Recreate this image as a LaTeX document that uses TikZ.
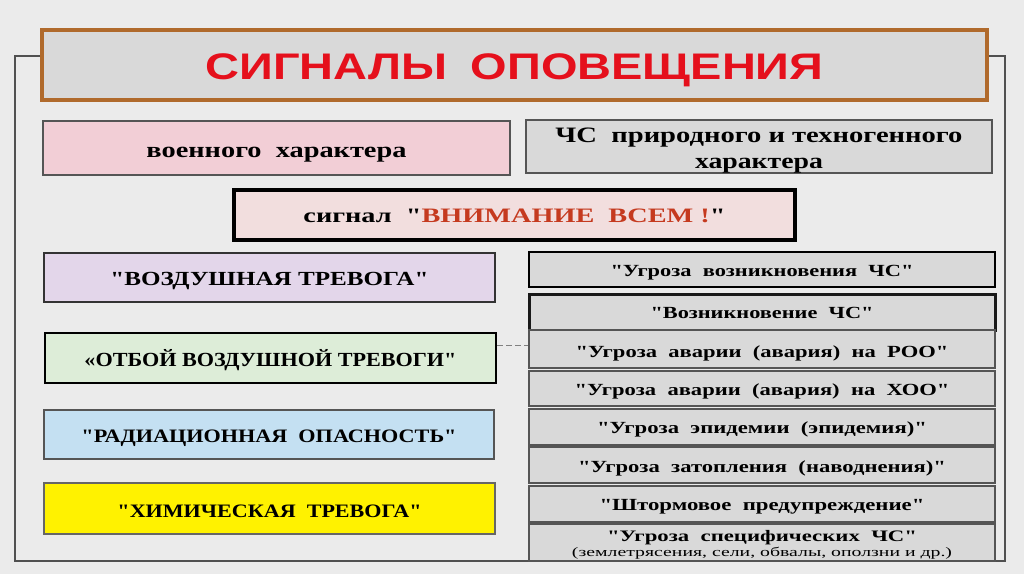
\documentclass[tikz,border=0pt]{standalone}
\usepackage{fontspec}
\setmainfont{Liberation Serif}
\newfontfamily\titlefont{Liberation Sans}
\usepackage{graphicx}
\definecolor{bgc}{HTML}{EBEBEB}
\definecolor{gry}{HTML}{D9D9D9}
\definecolor{brownc}{HTML}{B06A2C}
\definecolor{titlered}{HTML}{E5101C}
\definecolor{sigred}{HTML}{C53A1F}
\definecolor{pinkc}{HTML}{F2CED6}
\definecolor{sigpink}{HTML}{F2DEDE}
\definecolor{lavc}{HTML}{E3D6EA}
\definecolor{greenc}{HTML}{DDEDD8}
\definecolor{bluec}{HTML}{C4E0F2}
\definecolor{framec}{HTML}{505050}
\definecolor{edgec}{HTML}{555555}
\newcommand\tw[3]{\resizebox{#1pt}{\height}{\fontsize{#2pt}{#2pt}\selectfont\bfseries #3}}
\newcommand\dsp{\hspace*{0.5em}}
\newcommand\q{\textquotedbl}
\begin{document}
\begin{tikzpicture}[x=1pt,y=-1pt,
  basebox/.style={rectangle, inner sep=0pt, text depth=0pt, anchor=center},
  thinbox/.style={basebox, draw=edgec, line width=1.2pt},
  leftbox/.style={thinbox, minimum width=451pt},
  rightbox/.style={thinbox, fill=gry, minimum width=466pt},
  txt/.style={inner sep=0pt, anchor=base},
  frame/.style={draw=framec, line width=1.1pt},
  conn/.style={draw=gray, line width=1pt, dash pattern=on 6pt off 3pt}]
\useasboundingbox[fill=bgc] (0,0) rectangle (1024,574);

% title
\node[basebox, draw=brownc, line width=4pt, fill=gry, minimum width=945pt,
  minimum height=70pt, text height=29pt, text=titlered] (title) at (514.5,65)
  {\tw{618}{37}{\titlefont СИГНАЛЫ\dsp ОПОВЕЩЕНИЯ}};

% frame
\draw[frame] ([yshift=9pt]title.west) -- ++(-25,0) |- (1005,561) |- ([yshift=9pt]title.east);

% row 1
\node[thinbox, fill=pinkc, minimum width=467pt, minimum height=54pt, text height=18pt]
  (mil) at (276.5,148) {\tw{260}{22}{военного\dsp характера}};
\node[thinbox, fill=gry, minimum width=466pt, minimum height=53pt] (chs) at (759,146.5) {};
\node[txt] (chs1) at ([yshift=4.5pt]chs.center) {\tw{407}{22}{ЧС\dsp природного и техногенного}};
\node[txt] (chs2) at ([yshift=-21.5pt]chs.center) {\tw{128}{22}{характера}};

% signal
\node[basebox, draw=black, line width=4pt, fill=sigpink, minimum width=561pt,
  minimum height=50pt, text height=14pt] (signal) at (514.5,215)
  {\tw{422}{20.5}{сигнал\dsp \q\textcolor{sigred}{ВНИМАНИЕ\dsp ВСЕМ !}\q}};

% left column
\node[leftbox, fill=lavc, draw=black!80, line width=1.6pt, minimum height=49pt, text height=15pt]
  (air) at (269.5,277.5) {\tw{318}{20}{\q ВОЗДУШНАЯ ТРЕВОГА\q}};
\node[leftbox, fill=greenc, draw=black, line width=2.2pt, minimum height=50pt, text height=16pt]
  (clear) at (270.5,358) {\tw{372}{20}{«ОТБОЙ ВОЗДУШНОЙ ТРЕВОГИ\q}};
\node[leftbox, fill=bluec, minimum width=450pt, minimum height=49pt, text height=15pt]
  (rad) at (269,434.5) {\tw{375}{19}{\q РАДИАЦИОННАЯ\dsp ОПАСНОСТЬ\q}};
\node[leftbox, fill=yellow, draw=black!60, minimum height=51pt, text height=17pt]
  (chem) at (269.5,508.5) {\tw{304}{19}{\q ХИМИЧЕСКАЯ\dsp ТРЕВОГА\q}};

% right column
\node[rightbox, draw=black, line width=2pt, minimum height=35pt, text height=13pt]
  (r1) at (762,269.5) {\tw{303}{17}{\q Угроза\dsp возникновения\dsp ЧС\q}};
\node[rightbox, draw=black!90, line width=3pt, minimum height=36pt, text height=12pt]
  (r2) at (762,312) {\tw{223}{17}{\q Возникновение\dsp ЧС\q}};
\node[rightbox, minimum height=38pt, text height=16pt]
  (r3) at (762,349) {\tw{373}{17}{\q Угроза\dsp аварии\dsp (авария)\dsp на\dsp РОО\q}};
\node[rightbox, minimum height=35pt, text height=13pt]
  (r4) at (762,388.5) {\tw{375}{17}{\q Угроза\dsp аварии\dsp (авария)\dsp на\dsp ХОО\q}};
\node[rightbox, minimum height=36pt, text height=12pt]
  (r5) at (762,427) {\tw{330}{17}{\q Угроза\dsp эпидемии\dsp (эпидемия)\q}};
\node[rightbox, minimum height=36pt, text height=14pt]
  (r6) at (762,465) {\tw{368}{17}{\q Угроза\dsp затопления\dsp (наводнения)\q}};
\node[rightbox, minimum height=36pt, text height=12pt]
  (r7) at (762,504) {\tw{325}{17}{\q Штормовое\dsp предупреждение\q}};
\node[rightbox, minimum height=37pt] (r8) at (762,542.5) {};
\node[txt] (r8a) at ([yshift=1.5pt]r8.center) {\tw{310}{16}{\q Угроза\dsp специфических\dsp ЧС\q}};
\node[txt] (r8b) at ([yshift=-13.5pt]r8.center) {\resizebox{380pt}{\height}{\fontsize{13pt}{13pt}\selectfont (землетрясения, сели, обвалы, оползни и др.)}};

% connector
\draw[conn] ([yshift=13pt]clear.east) -- ([yshift=13pt]clear.east -| r3.west);
\end{tikzpicture}
\end{document}
